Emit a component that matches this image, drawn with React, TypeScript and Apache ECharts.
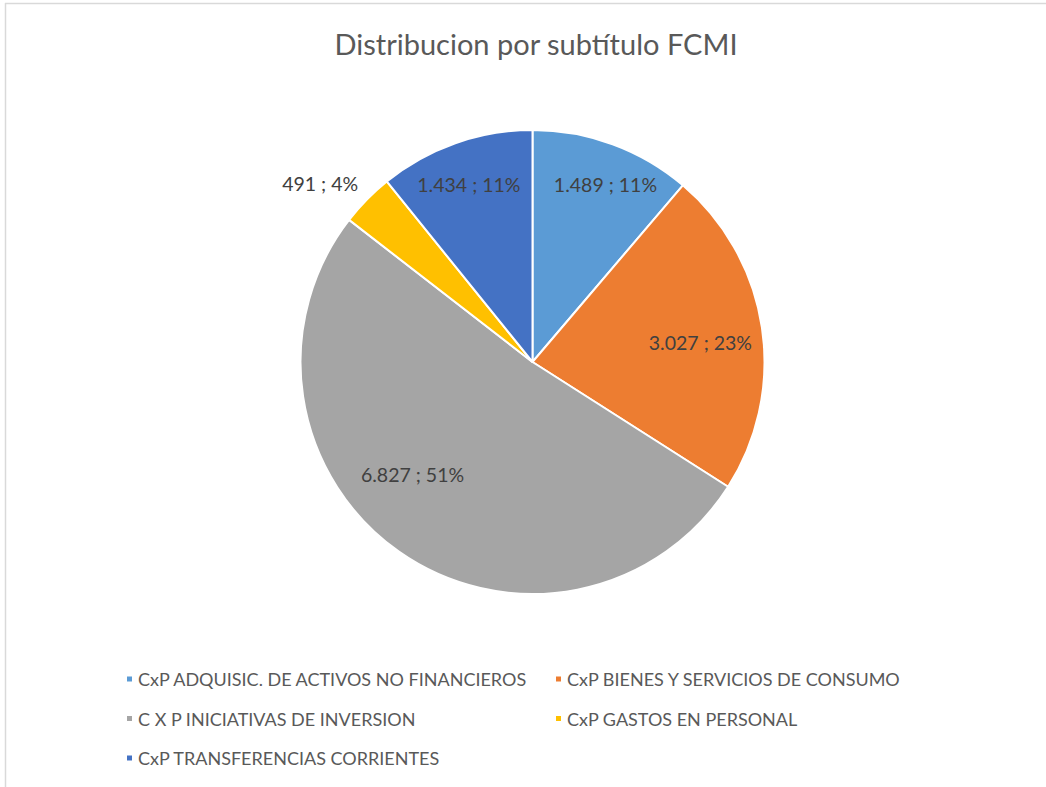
import React, { useEffect, useRef } from "react";
import * as echarts from "echarts";

const titleText = "Distribucion por subtítulo FCMI";
const categories = [
  "CxP ADQUISIC. DE ACTIVOS NO FINANCIEROS",
  "CxP BIENES Y SERVICIOS DE CONSUMO",
  "C X P INICIATIVAS DE INVERSION",
  "CxP GASTOS EN PERSONAL",
  "CxP TRANSFERENCIAS CORRIENTES",
];
const values = [1489, 3027, 6827, 491, 1434];
const colors = ["#5B9BD5", "#ED7D31", "#A5A5A5", "#FFC000", "#4472C4"];
const labelOffsets = [
  [7, 2],
  [-21, 9],
  [-10, -44],
  [-76, -45],
  [0, 3],
];

const fmtThousands = (v: number) =>
  String(v).replace(/\B(?=(\d{3})+(?!\d))/g, ".");

export default function App() {
  const ref = useRef<HTMLDivElement>(null);
  useEffect(() => {
    if (!ref.current) return;
    const chart = echarts.init(ref.current, null, { renderer: "svg" });
    const font = "Lato, 'Open Sans', sans-serif";
    const R = 232;
    const center = [532.5, 362];
    const pieData = categories.map((name, i) => ({
      name,
      value: values[i],
      itemStyle: { color: colors[i] },
    }));
    const labelData = categories.map((name, i) => ({
      name,
      value: values[i],
      label: { offset: labelOffsets[i] },
    }));
    const legendText = {
      fontFamily: font,
      fontSize: 18,
      color: "#595959",
      lineHeight: 20,
    };
    chart.setOption({
      animation: false,
      backgroundColor: "#ffffff",
      title: {
        text: titleText,
        left: 531,
        top: 24,
        textAlign: "center",
        textStyle: {
          fontFamily: font,
          fontSize: 29,
          fontWeight: "normal",
          color: "#595959",
        },
      },
      legend: [
        {
          orient: "vertical",
          left: 120,
          top: 664,
          icon: "rect",
          itemWidth: 7,
          itemHeight: 7,
          itemGap: 19.5,
          data: [categories[0], categories[2], categories[4]],
          textStyle: legendText,
        },
        {
          orient: "vertical",
          left: 549,
          top: 664,
          icon: "rect",
          itemWidth: 7,
          itemHeight: 7,
          itemGap: 19.5,
          data: [categories[1], categories[3]],
          textStyle: legendText,
        },
      ],
      graphic: [
        {
          type: "line",
          shape: { x1: 5, y1: 3.5, x2: 1046, y2: 3.5 },
          style: { stroke: "#d9d9d9", lineWidth: 1.5 },
          silent: true,
        },
        {
          type: "line",
          shape: { x1: 5.5, y1: 3, x2: 5.5, y2: 787 },
          style: { stroke: "#d9d9d9", lineWidth: 1.5 },
          silent: true,
        },
      ],
      series: [
        {
          type: "pie",
          radius: R,
          center,
          startAngle: 90,
          clockwise: true,
          label: { show: false },
          labelLine: { show: false },
          itemStyle: { borderColor: "#ffffff", borderWidth: 2 },
          emphasis: { disabled: true },
          data: pieData,
        },
        {
          type: "pie",
          radius: [144, R],
          center,
          startAngle: 90,
          clockwise: true,
          silent: true,
          itemStyle: { color: "rgba(0,0,0,0)", borderWidth: 0 },
          labelLine: { show: false },
          label: {
            show: true,
            position: "inside",
            fontFamily: font,
            fontSize: 19.5,
            color: "#404040",
            formatter: (p: any) =>
              `${fmtThousands(p.value)} ; ${Math.round(p.percent)}%`,
          },
          emphasis: { disabled: true },
          data: labelData,
        },
      ],
    });
    return () => chart.dispose();
  }, []);
  return (
    <div
      ref={ref}
      style={{ position: "fixed", left: 0, top: 0, width: 1046, height: 787 }}
    />
  );
}
